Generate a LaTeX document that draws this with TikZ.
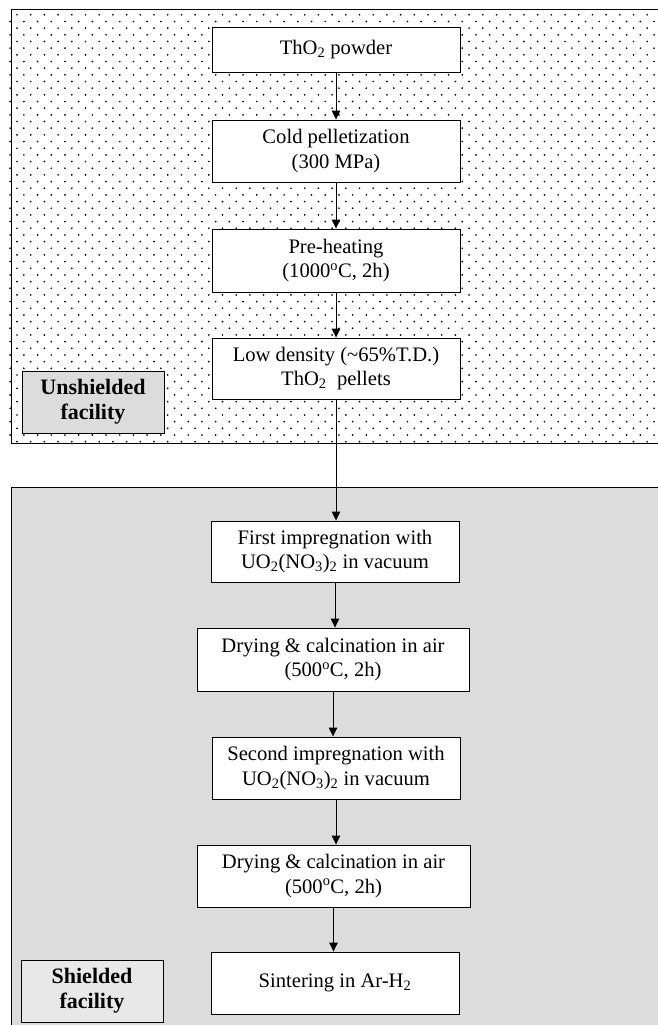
\documentclass[tikz,border=0pt]{standalone}
\usepackage{fontspec}
\setmainfont{Liberation Serif}
\usetikzlibrary{arrows.meta}
\definecolor{shieldbg}{HTML}{DCDCDC}
\definecolor{labelA}{HTML}{DCDCDC}
\definecolor{labelB}{HTML}{E8E8E8}
\tikzset{
  procbox/.style={draw=black, line width=0.9pt, fill=white, inner sep=0pt, align=center,
    font=\fontsize{20.6}{24.5}\selectfont, minimum width=248pt},
  facbox/.style={draw=black, line width=0.9pt, inner sep=0pt, align=center,
    font=\bfseries\fontsize{22}{25}\selectfont, minimum width=142pt, minimum height=62pt},
  arr/.style={line width=0.9pt, -{Triangle[length=9pt,width=8.5pt]}},
  frame/.style={draw=black, line width=1pt}
}
\begin{document}
\begin{tikzpicture}[x=1pt,y=-1pt]
\useasboundingbox (0,0) rectangle (658,1025);
\clip (0,0) rectangle (658,1025);
% unshielded region with dots
\fill[white] (11,10) rectangle (680,443);
\foreach \r in {0,...,64}{
  \pgfmathsetmacro\yy{14.8+6.67*\r}
  \pgfmathsetmacro\xs{17-mod(\r,2)*6.85}
  \foreach \c in {0,...,48}{
    \fill (\xs+13.7*\c,\yy) circle (0.95pt);
  }
}
\draw[frame] (11,10) rectangle (680,443);
% shielded region
\draw[frame, fill=shieldbg] (11,487) rectangle (680,1045);
% process boxes
\node[procbox, minimum height=45pt] (b1) at (336,49.5) {ThO\textsubscript{2} powder};
\node[procbox, minimum height=62pt] (b2) at (336,151) {Cold pelletization\\(300 MPa)};
\node[procbox, minimum height=63pt] (b3) at (336,260.5) {Pre-heating\\(1000\textsuperscript{o}C, 2h)};
\node[procbox, minimum height=61pt] (b4) at (336,368.5) {Low density (\textasciitilde65\%T.D.)\\ThO\textsubscript{2}\ \ pellets};
\node[procbox, minimum height=61pt] (b5) at (335,551.5) {First impregnation with\\UO\textsubscript{2}(NO\textsubscript{3})\textsubscript{2} in vacuum};
\node[procbox, minimum width=272pt, minimum height=63pt] (b6) at (333,659.5) {Drying \& calcination in air\\(500\textsuperscript{o}C, 2h)};
\node[procbox, minimum height=62pt] (b7) at (336,768) {Second impregnation with\\UO\textsubscript{2}(NO\textsubscript{3})\textsubscript{2} in vacuum};
\node[procbox, minimum width=273pt, minimum height=62pt] (b8) at (333.5,876) {Drying \& calcination in air\\(500\textsuperscript{o}C, 2h)};
\node[procbox, minimum height=62pt] (b9) at (335,983) {Sintering in Ar-H\textsubscript{2}};
% facility labels
\node[facbox, fill=labelA] (lu) at (93,402) {Unshielded\\facility};
\node[facbox, fill=labelB] (ls) at (92,991) {Shielded\\facility};
% connectors
\draw[arr] (b1.south) -- (b1.south |- b2.north);
\draw[arr] (b2.south) -- (b2.south |- b3.north);
\draw[arr] (b3.south) -- (b3.south |- b4.north);
\draw[arr] (b4.south) -- (b4.south |- b5.north);
\draw[arr] (b5.south) -- (b5.south |- b6.north);
\draw[arr] (b6.south) -- (b6.south |- b7.north);
\draw[arr] (b7.south) -- (b7.south |- b8.north);
\draw[arr] (b8.south) -- (b8.south |- b9.north);
\end{tikzpicture}
\end{document}
